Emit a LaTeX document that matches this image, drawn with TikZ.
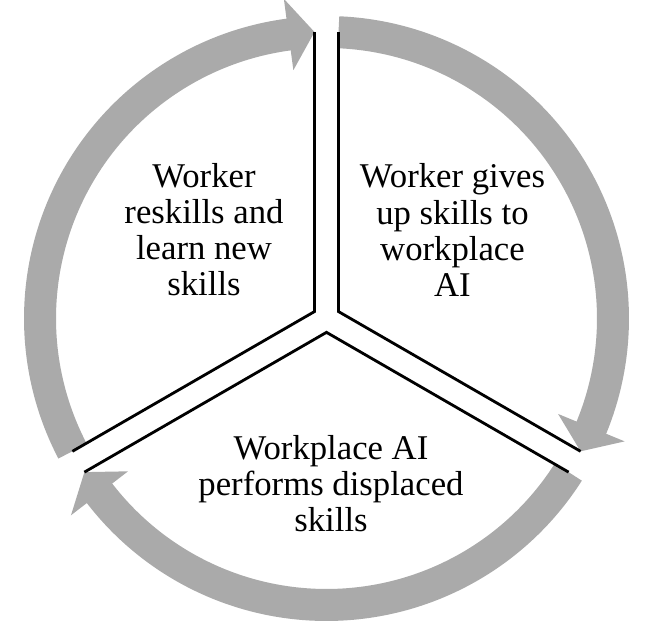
\documentclass[tikz,border=0pt]{standalone}
\usepackage{fontspec}
\setmainfont{Liberation Serif}
\definecolor{ringgray}{RGB}{170,170,170}
\begin{document}
\begin{tikzpicture}[band/.style={draw=ringgray, line width=0.64cm},
                    head/.style={fill=ringgray},
                    divider/.style={line width=1.6pt, line join=miter},
                    stagetext/.style={align=center, inner sep=0pt,
                      font=\fontsize{19.75}{20.5}\selectfont}]
\useasboundingbox (-6.53, -6.17) rectangle (6.57, 6.37);
% ends of the three bars and the corners of the Y
\path (92.4:5.735) coordinate (tl)
      (87.6:5.735) coordinate (tr)
      (-27.6:5.735) coordinate (rt)
      (-32.4:5.735) coordinate (rb)
      (212.4:5.735) coordinate (lb)
      (207.6:5.735) coordinate (lt)
      (150:0.277) coordinate (yl)
      (30:0.277) coordinate (yr)
      (270:0.277) coordinate (yb);
% grey ring in three parts
\draw[band] (87.6:5.73) arc[start angle=87.6, end angle=-22.6, radius=5.73];
\draw[band] (-32.4:5.73) arc[start angle=-32.4, end angle=-142.6, radius=5.73];
\draw[band] (207.6:5.73) arc[start angle=207.6, end angle=97.4, radius=5.73];
\fill[head] (-22.4:5.01) -- (-22.4:6.45) -- (rt) -- cycle;
\fill[head] (-142.4:5.01) -- (-142.4:6.45) -- (lb) -- cycle;
\fill[head] (97.6:5.01) -- (97.6:6.45) -- (tl) -- cycle;
% the Y
\draw[divider] (tl) -- (yl) -- (lt)
      (tr) -- (yr) -- (rt)
      (rb) -- (yb) -- (lb);
\path (-2.45, 1.77) node[stagetext] (reskill) {Worker\\reskills and\\learn new\\skills}
      (2.52, 1.77) node[stagetext] (giveup) {Worker gives\\up skills to\\workplace\\AI}
      (0.09, -3.31) node[stagetext] (perform) {Workplace AI\\performs displaced\\skills};
\end{tikzpicture}
\end{document}
